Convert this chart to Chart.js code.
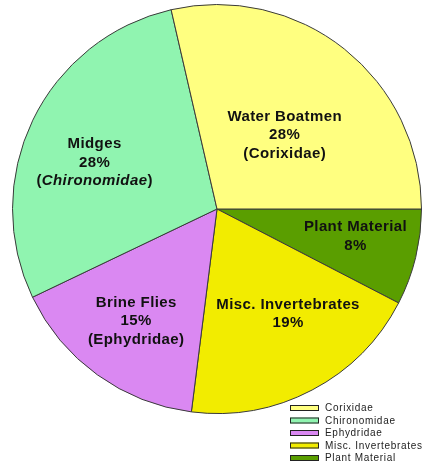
<!DOCTYPE html>
<html>
<head>
<meta charset="utf-8">
<script src="https://cdn.jsdelivr.net/npm/chart.js@4/dist/chart.umd.min.js"></script>
<style>
  html, body { margin: 0; padding: 0; background: #fff; }
  #wrap { width: 425px; height: 474px; }
</style>
</head>
<body>
<div id="wrap"><canvas id="pie" width="425" height="474"></canvas></div>
<script>
// legend order (counter-clockwise round the pie)
const categories = ['Water Boatmen', 'Midges', 'Brine Flies', 'Misc. Invertebrates', 'Plant Material'];
const families = ['Corixidae', 'Chironomidae', 'Ephydridae', '', ''];
const legendNames = ['Corixidae', 'Chironomidae', 'Ephydridae', 'Misc. Invertebrates', 'Plant Material'];
const shares = [28.6, 28.5, 15.9, 19.4, 7.6];
const pctLabels = ['28%', '28%', '15%', '19%', '8%'];
const colors = ['#ffff80', '#90f4b0', '#da88f2', '#f2ec00', '#5a9e00'];

// label placement inside each slice: fraction of radius, angle nudge (deg)
const labelPlace = [
    { r: 0.49, da: 4 },
    { r: 0.64, da: -5 },
    { r: 0.675, da: 0 },
    { r: 0.62, da: -6.4 },
    { r: 0.69, da: -2.6 }
];

const FONT = '"Liberation Sans", Arial, sans-serif';
const n = categories.length;
const rev = a => a.slice().reverse();

const sliceLabels = {
    id: 'sliceLabels',
    afterDatasetsDraw(chart) {
        const ctx = chart.ctx;
        const arcs = chart.getDatasetMeta(0).data;
        ctx.save();
        ctx.fillStyle = '#111';
        ctx.textBaseline = 'middle';
        ctx.letterSpacing = '0.4px';
        arcs.forEach((arc, i) => {
            const k = n - 1 - i;
            const p = arc.getProps(['x', 'y', 'startAngle', 'endAngle', 'outerRadius'], true);
            const mid = (p.startAngle + p.endAngle) / 2 + labelPlace[k].da * Math.PI / 180;
            const rr = p.outerRadius * labelPlace[k].r;
            const cx = p.x + Math.cos(mid) * rr;
            const cy = p.y + Math.sin(mid) * rr;
            const lines = [categories[k], pctLabels[k]];
            if (families[k]) lines.push(families[k]);
            const lh = 18.5;
            const y0 = cy - (lines.length - 1) * lh / 2;
            lines.forEach((txt, j) => {
                const y = y0 + j * lh;
                if (j === 2) {
                    const italic = k === 1;
                    const parts = [
                        ['(', 'bold 15px ' + FONT],
                        [txt, (italic ? 'italic ' : '') + 'bold 15px ' + FONT],
                        [')', 'bold 15px ' + FONT]
                    ];
                    let w = 0;
                    parts.forEach(pt => { ctx.font = pt[1]; w += ctx.measureText(pt[0]).width; });
                    let x = cx - w / 2;
                    ctx.textAlign = 'left';
                    parts.forEach(pt => {
                        ctx.font = pt[1];
                        ctx.fillText(pt[0], x, y);
                        x += ctx.measureText(pt[0]).width;
                    });
                } else {
                    ctx.font = 'bold 15px ' + FONT;
                    ctx.textAlign = 'center';
                    ctx.fillText(txt, cx, y);
                }
            });
        });
        ctx.restore();
    }
};

const boxLegend = {
    id: 'boxLegend',
    afterDraw(chart) {
        const ctx = chart.ctx;
        ctx.save();
        ctx.font = '10px ' + FONT;
        ctx.letterSpacing = '0.7px';
        ctx.textBaseline = 'middle';
        ctx.textAlign = 'left';
        legendNames.forEach((name, i) => {
            const y = 408 + i * 12.5;
            ctx.fillStyle = colors[i];
            ctx.fillRect(290, y - 3, 29, 6);
            ctx.strokeStyle = '#222';
            ctx.lineWidth = 1;
            ctx.strokeRect(290.5, y - 2.5, 28, 5);
            ctx.fillStyle = '#222';
            ctx.fillText(name, 325, y + 0.5);
        });
        ctx.restore();
    }
};

new Chart(document.getElementById('pie'), {
    type: 'pie',
    data: {
        labels: rev(categories),
        datasets: [{
            data: rev(shares),
            backgroundColor: rev(colors),
            borderColor: '#3a3a3a',
            borderWidth: 1
        }]
    },
    options: {
        responsive: false,
        animation: false,
        events: [],
        rotation: 90,
        layout: { padding: { left: 12, right: 3, top: 4, bottom: 60 } },
        plugins: {
            legend: { display: false },
            tooltip: { enabled: false }
        }
    },
    plugins: [sliceLabels, boxLegend]
});
</script>
</body>
</html>
